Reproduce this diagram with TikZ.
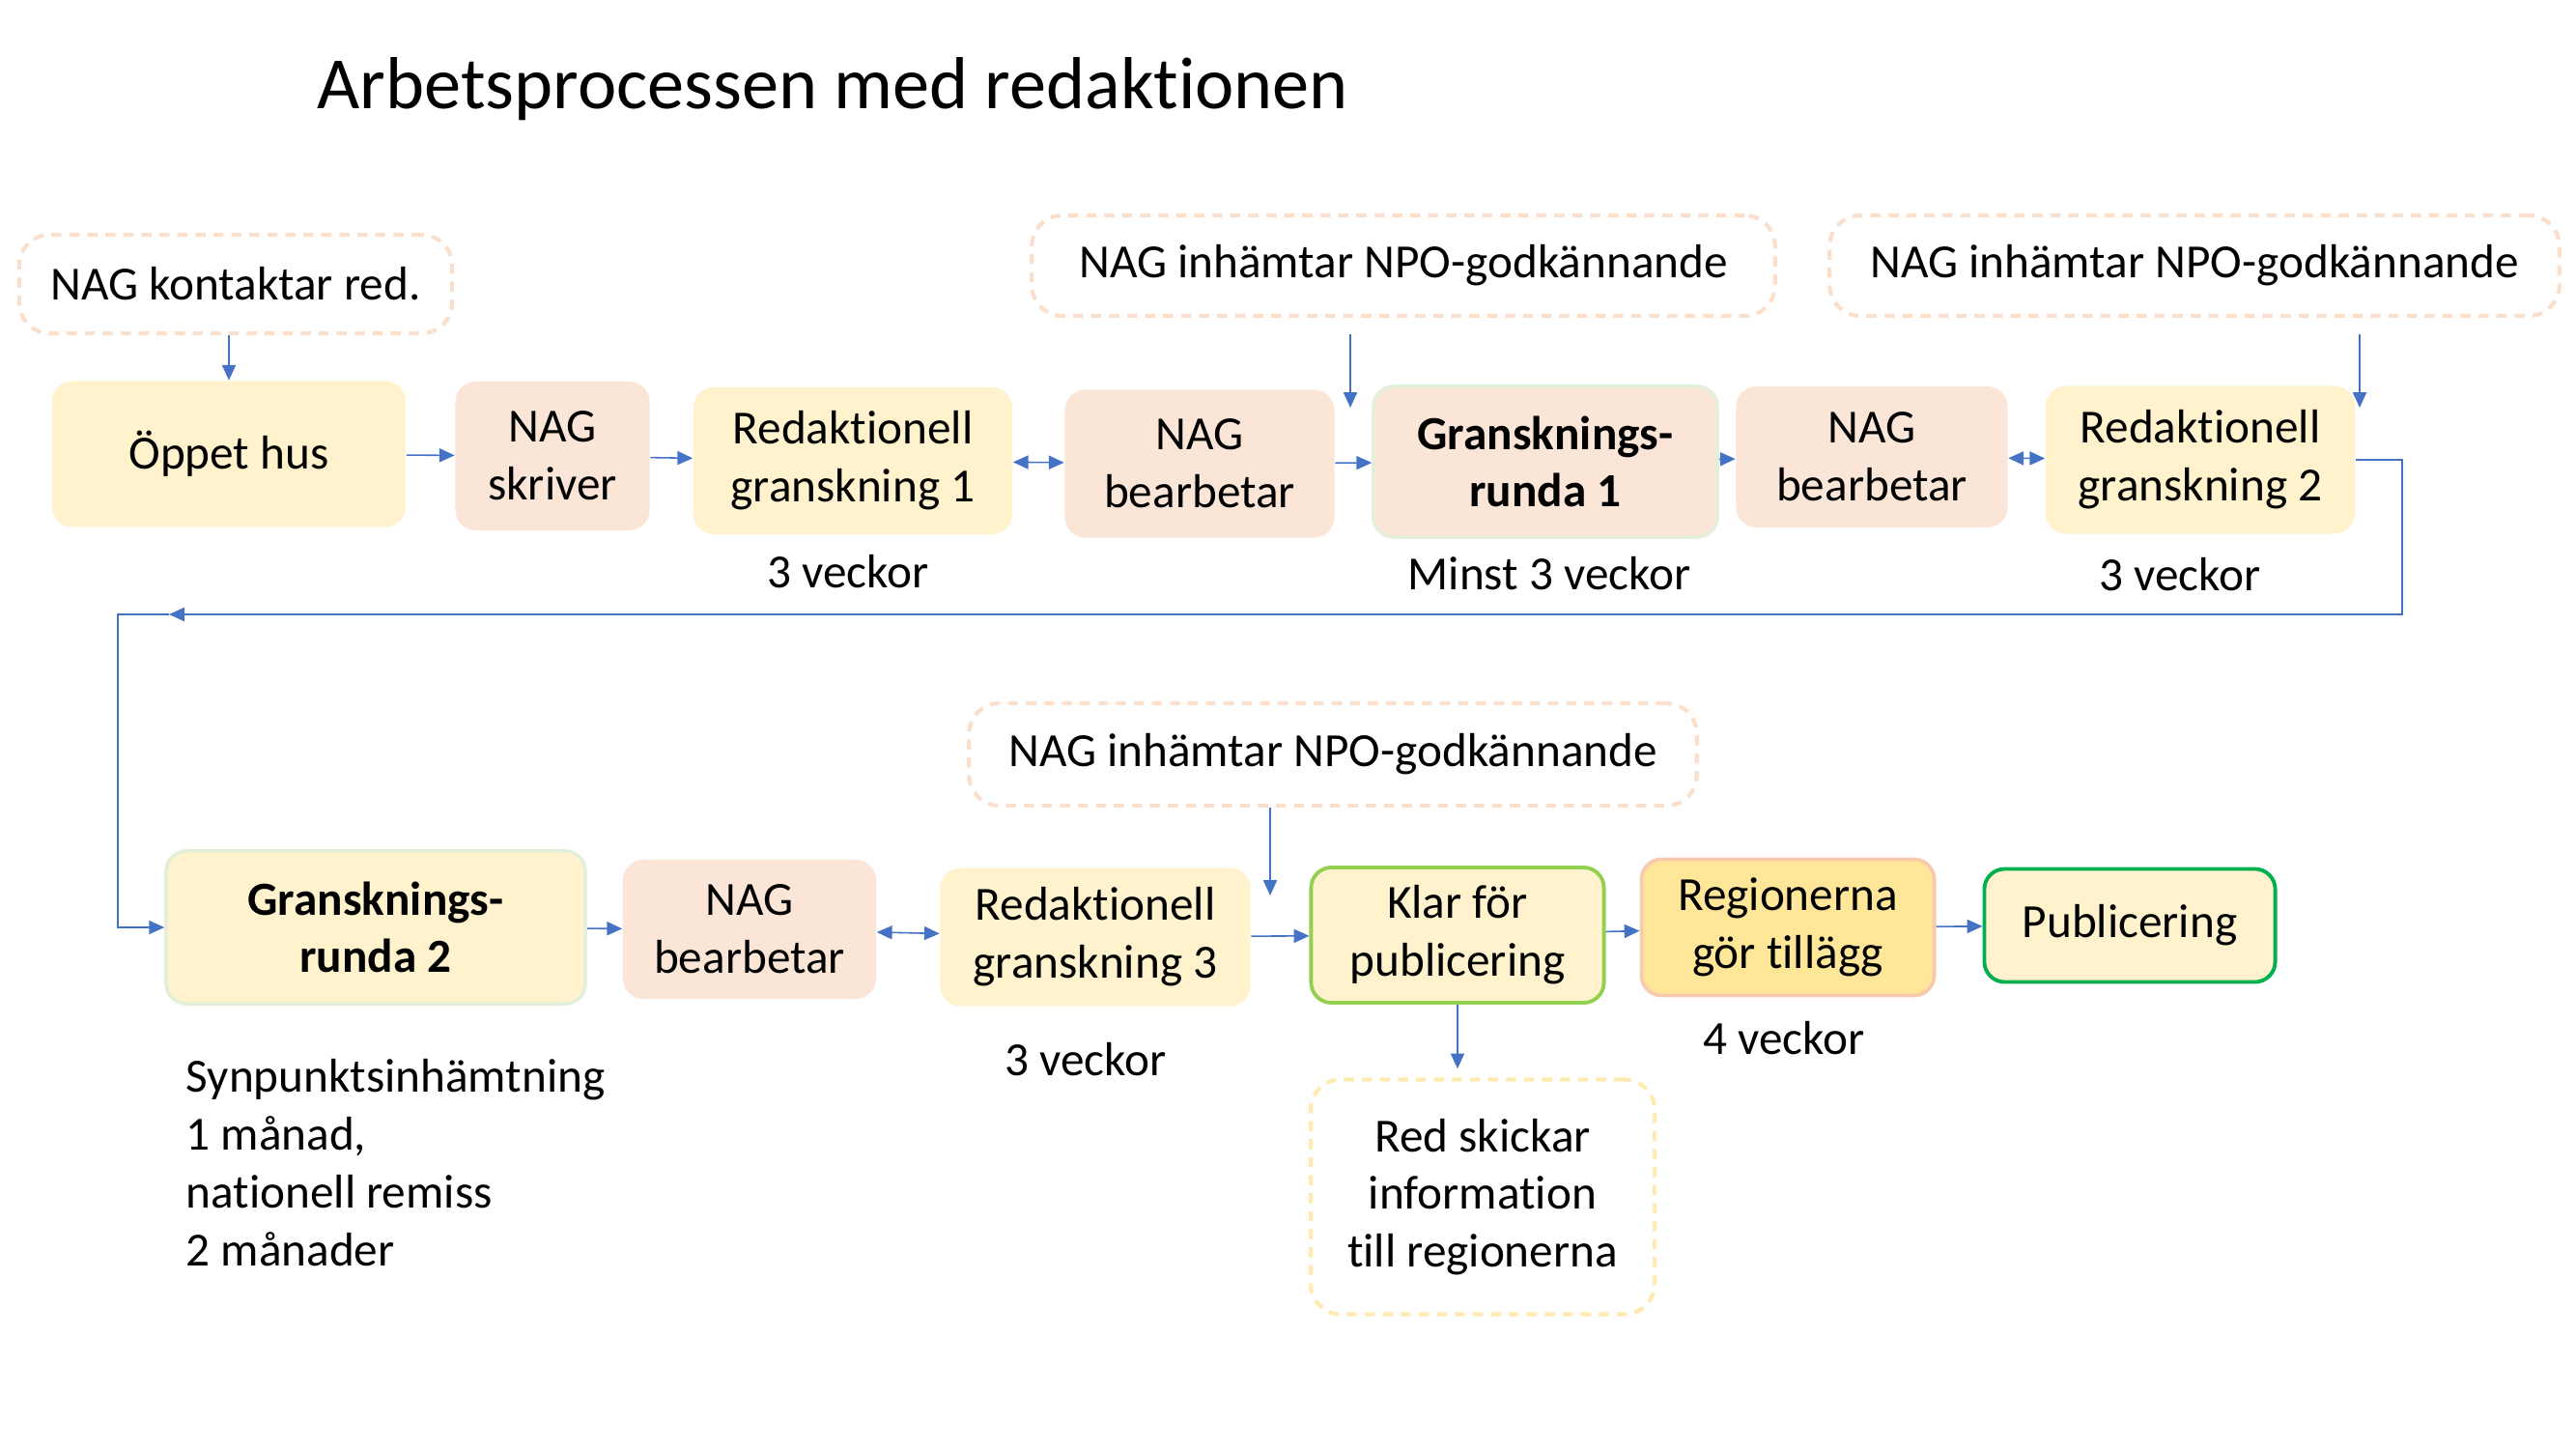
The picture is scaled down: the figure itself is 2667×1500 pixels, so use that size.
\documentclass[tikz,border=0pt]{standalone}
\usepackage{fontspec}
\setmainfont{Carlito}[Ligatures=NoCommon]
\usetikzlibrary{arrows.meta}

\definecolor{linkblue}{HTML}{4472C4}
\definecolor{cream}{HTML}{FFF2CC}
\definecolor{peach}{HTML}{FBE5D6}
\definecolor{dashpeach}{HTML}{FBDFCD}
\definecolor{dashyellow}{HTML}{FFEAB0}
\definecolor{softgreen}{HTML}{E2F0D9}
\definecolor{leafgreen}{HTML}{92D050}
\definecolor{darkgreen}{HTML}{00B050}
\definecolor{gold}{HTML}{FFE699}
\definecolor{salmon}{HTML}{F8CBAD}

\begin{document}
\begin{tikzpicture}
        [x=0.01cm, y=-0.01cm,
        box/.style={rounded corners=6pt, align=center, inner sep=0pt, font=\fontsize{14}{17}\selectfont},
        ybox/.style={box, fill=cream},
        nbox/.style={box, fill=peach},
        dbox/.style={box, draw=dashpeach, line width=1.2pt, dash pattern=on 3pt off 2.3pt, rounded corners=9pt},
        txt/.style={inner sep=0pt, font=\fontsize{14}{17}\selectfont},
        conn/.style={linkblue, line width=0.45pt, -{Triangle[length=4.5pt,width=4pt]}},
        conn2/.style={linkblue, line width=0.45pt, {Triangle[length=4.5pt,width=4pt]}-{Triangle[length=4.5pt,width=4pt]}}]

        \useasboundingbox (0,0) rectangle (2667,1500);

        \node[anchor=west, inner sep=0pt, font=\fontsize{21.7}{26}\selectfont] (title) at (328,92) {Arbetsprocessen med redaktionen};

        % first row
        \node[dbox, minimum width=4.48cm, minimum height=1.02cm] (kontakt) at (244,294) {NAG kontaktar red.};
        \node[dbox, minimum width=7.69cm, minimum height=1.04cm] (npo1) at (1453,275) {NAG inhämtar NPO-godkännande};
        \node[dbox, minimum width=7.55cm, minimum height=1.04cm] (npo2) at (2272,275) {NAG inhämtar NPO-godkännande};

        \node[ybox, minimum width=3.66cm, minimum height=1.51cm] (oppet) at (237,470) {Öppet hus};
        \node[nbox, minimum width=2.01cm, minimum height=1.54cm] (skriver) at (572,472) {NAG\\skriver};
        \node[ybox, minimum width=3.30cm, minimum height=1.52cm] (red1) at (883,477) {Redaktionell\\granskning 1};
        \node[nbox, minimum width=2.79cm, minimum height=1.53cm] (bearb1) at (1242,480) {NAG\\bearbetar};
        \node[nbox, draw=softgreen, line width=1pt, minimum width=3.56cm, minimum height=1.56cm] (gr1) at (1600,478) {\bfseries Gransknings-\\\bfseries runda 1};
        \node[nbox, minimum width=2.81cm, minimum height=1.46cm] (bearb2) at (1938,473) {NAG\\bearbetar};
        \node[ybox, minimum width=3.20cm, minimum height=1.53cm] (red2) at (2278,476) {Redaktionell\\granskning 2};

        \node[txt] (w1) at (878,592) {3 veckor};
        \node[txt] (w2) at (1604,594) {Minst 3 veckor};
        \node[txt] (w3) at (2257,595) {3 veckor};

        % second row
        \node[dbox, minimum width=7.53cm, minimum height=1.06cm] (npo3) at (1380,781) {NAG inhämtar NPO-godkännande};

        \node[ybox, draw=softgreen, line width=1pt, minimum width=4.34cm, minimum height=1.58cm] (gr2) at (389,960) {\bfseries Gransknings-\\\bfseries runda 2};
        \node[nbox, minimum width=2.62cm, minimum height=1.44cm] (bearb3) at (776,962) {NAG\\bearbetar};
        \node[ybox, minimum width=3.21cm, minimum height=1.43cm] (red3) at (1134,970) {Redaktionell\\granskning 3};
        \node[ybox, draw=leafgreen, line width=1.1pt, minimum width=3.03cm, minimum height=1.40cm] (klar) at (1509,968) {Klar för\\publicering};
        \node[box, fill=gold, draw=salmon, line width=1.1pt, minimum width=3.03cm, minimum height=1.41cm] (region) at (1851,960) {Regionerna\\gör tillägg};
        \node[ybox, draw=darkgreen, line width=1.1pt, minimum width=3.01cm, minimum height=1.17cm] (publ) at (2205,958) {Publicering};
        \node[dbox, draw=dashyellow, minimum width=3.56cm, minimum height=2.43cm] (skickar) at (1535,1239) {Red skickar\\information\\till regionerna};

        \node[txt] (w4) at (1124,1097) {3 veckor};
        \node[txt] (w5) at (1847,1075) {4 veckor};
        \node[txt, align=left, anchor=north west] (remiss) at (192,1096) {Synpunktsinhämtning\\1 månad,\\nationell remiss\\2 månader};

        % free ends of the arrows
        \coordinate (in1) at (1398,422);
        \coordinate (in2) at (2443,422);
        \coordinate (in3) at (1315,927);
        \coordinate (turnR) at (2487,636);
        \coordinate (back) at (175,636);
        \coordinate (turnL) at (122,636);

        % arrows first row
        \draw[conn] (kontakt.south -| oppet.north) -- (oppet.north);
        \draw[conn] (oppet) -- (skriver);
        \draw[conn] (skriver) -- (red1);
        \draw[conn2] (red1) -- (bearb1);
        \draw[conn] (bearb1) -- (gr1);
        \draw[conn] (gr1) -- (bearb2);
        \draw[conn2] (bearb2) -- (red2);
        \draw[conn, shorten <=0.17cm] (in1 |- npo1.south) -- (in1);
        \draw[conn, shorten <=0.17cm] (in2 |- npo2.south) -- (in2);

        % back to the second row
        \draw[conn] (red2.east) -| (turnR) -- (back);
        \draw[conn] (back) -- (turnL) |- (gr2.west);

        % arrows second row
        \draw[conn] (gr2) -- (bearb3);
        \draw[conn2] (bearb3) -- (red3);
        \draw[conn] (red3) -- (klar);
        \draw[conn] (klar) -- (region);
        \draw[conn] (region) -- (publ);
        \draw[conn] (in3 |- npo3.south) -- (in3);
        \draw[conn, shorten >=0.09cm] (klar.south) -- (klar.south |- skickar.north);

\end{tikzpicture}
\end{document}
